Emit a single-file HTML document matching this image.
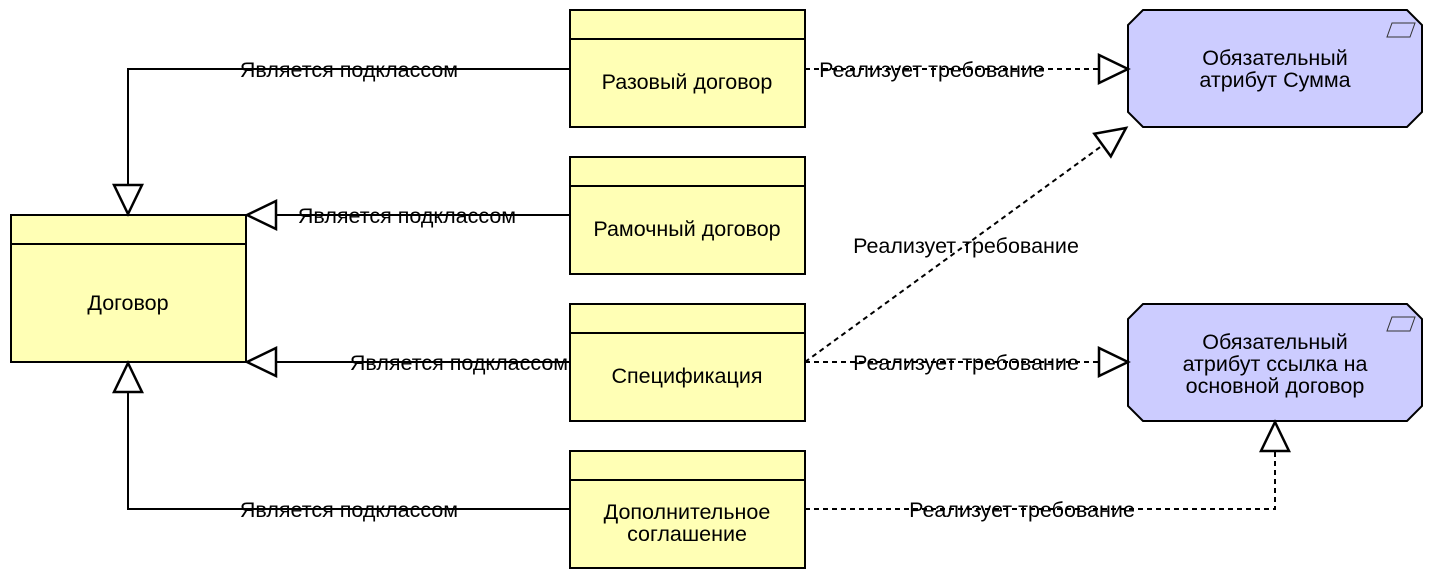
<!DOCTYPE html>
<html><head><meta charset="utf-8"><style>
html,body{margin:0;padding:0;background:#fff;}
svg{display:block;}
text{font-family:"Liberation Sans",Arial,sans-serif;font-size:21.5px;fill:#000;}
</style></head><body>
<svg width="1432" height="578" viewBox="0 0 1432 578" xmlns="http://www.w3.org/2000/svg">
<g stroke="#000" stroke-width="2" fill="#ffffb5">
<rect x="11" y="215" width="235" height="147"/><line x1="11" y1="244" x2="246" y2="244"/>
<rect x="570" y="10" width="235" height="117"/><line x1="570" y1="39" x2="805" y2="39"/>
<rect x="570" y="157" width="235" height="117"/><line x1="570" y1="186" x2="805" y2="186"/>
<rect x="570" y="304" width="235" height="117"/><line x1="570" y1="333" x2="805" y2="333"/>
<rect x="570" y="451" width="235" height="117"/><line x1="570" y1="480" x2="805" y2="480"/>
</g>
<g stroke="#000" stroke-width="2" fill="#ccccff">
<polygon points="1143,10 1407,10 1422,25 1422,112 1407,127 1143,127 1128,112 1128,25"/>
<polygon points="1143,304 1407,304 1422,319 1422,406 1407,421 1143,421 1128,406 1128,319"/>
</g>
<g stroke="#333" stroke-width="1" fill="none">
<polygon points="1392,23 1415,23 1410,37 1387,37"/>
<polygon points="1392,317 1415,317 1410,331 1387,331"/>
</g>
<g stroke="#000" stroke-width="2" fill="none">
<polyline points="570,69 128,69 128,185"/>
<line x1="570" y1="215" x2="276" y2="215"/>
<line x1="570" y1="362" x2="276" y2="362"/>
<polyline points="570,509 128,509 128,392"/>
</g>
<g stroke="#000" stroke-width="2" fill="none" stroke-dasharray="5,4">
<line x1="805" y1="69" x2="1099" y2="69"/>
<line x1="805" y1="362" x2="1099" y2="362"/>
<line x1="805" y1="362" x2="1103" y2="145"/>
<polyline points="805,509 1275,509 1275,452"/>
</g>
<g stroke="#000" stroke-width="2.5" fill="#fff">
<polygon points="128,214 114,185 142,185"/>
<polygon points="247,215 276,201 276,229"/>
<polygon points="247,362 276,348 276,376"/>
<polygon points="128,363 114,392 142,392"/>
<polygon points="1128,69 1099,55 1099,83"/>
<polygon points="1128,362 1099,348 1099,376"/>
<polygon points="1275,422 1261,451 1289,451"/>
<polygon points="0,0 -29,-14 -29,14" transform="translate(1126,128) rotate(-36.1)"/>
</g>
<g text-anchor="middle">
<text x="128" y="310">Договор</text>
<text x="687" y="89">Разовый договор</text>
<text x="687" y="236">Рамочный договор</text>
<text x="687" y="383">Спецификация</text>
<text x="687" y="519">Дополнительное</text>
<text x="687" y="541">соглашение</text>
<text x="1275" y="65">Обязательный</text>
<text x="1275" y="87">атрибут Сумма</text>
<text x="1275" y="349">Обязательный</text>
<text x="1275" y="371">атрибут ссылка на</text>
<text x="1275" y="393">основной договор</text>
<text x="349" y="77">Является подклассом</text>
<text x="407" y="223">Является подклассом</text>
<text x="459" y="370">Является подклассом</text>
<text x="349" y="517">Является подклассом</text>
<text x="932" y="77">Реализует требование</text>
<text x="966" y="253">Реализует требование</text>
<text x="966" y="370">Реализует требование</text>
<text x="1022" y="517">Реализует требование</text>
</g>
</svg>
</body></html>
